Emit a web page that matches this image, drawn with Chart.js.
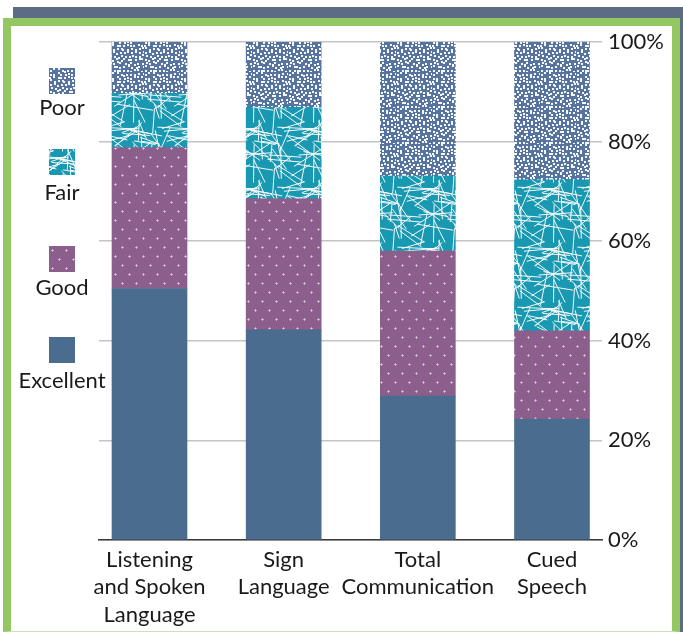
<!DOCTYPE html>
<html>
<head>
<meta charset="utf-8">
<script src="https://cdn.jsdelivr.net/npm/chart.js@4.4.1/dist/chart.umd.min.js"></script>
<style>
    body {
        margin: 0;
        width: 683px;
        height: 632px;
        background: #ffffff;
        position: relative;
        overflow: hidden;
        font-family: Lato, "Open Sans", sans-serif;
    }
    .top-bar {
        position: absolute;
        left: 13px;
        top: 7px;
        width: 670px;
        height: 12px;
        background: #5c6c84;
    }
    .right-bar {
        position: absolute;
        left: 680px;
        top: 7px;
        width: 3px;
        height: 625px;
        background: #5c6c84;
    }
    .frame {
        position: absolute;
        left: 3px;
        top: 18px;
        width: 661px;
        height: 605px;
        border: 8px solid #93c762;
        border-bottom: 1px solid #c9e3b2;
        background: #ffffff;
    }
    #chart {
        position: absolute;
        left: 0;
        top: 0;
    }
    .legend-swatch {
        position: absolute;
        left: 49px;
        width: 26px;
        height: 26px;
    }
    .legend-text {
        position: absolute;
        left: 2px;
        width: 120px;
        text-align: center;
        font-size: 22px;
        color: #1a1a1a;
        line-height: 26px;
    }
</style>
</head>
<body>
<div class="top-bar"></div>
<div class="right-bar"></div>
<div class="frame"></div>
<canvas id="chart" width="683" height="632"></canvas>
<div id="legend"></div>

<script>
// Chart data
const categories = [
    ["Listening", "and Spoken", "Language"],
    ["Sign", "Language"],
    ["Total", "Communication"],
    ["Cued", "Speech"],
];
const excellent = [50.5, 42.2, 28.9, 24.3];
const good = [28.3, 26.3, 29.1, 17.7];
const fair = [10.9, 18.4, 15.1, 30.3];
const poor = [10.3, 13.1, 26.9, 27.7];
const yTicks = [0, 20, 40, 60, 80, 100];

let textColor = "#1a1a1a";
let tickFont = { family: "Lato", size: 22, lineHeight: 1.25 };

// seeded generator, only used for the texture of the fills
let seed = 987654321;
function rnd() {
    seed |= 0;
    seed = (seed + 0x6d2b79f5) | 0;
    let t = Math.imul(seed ^ (seed >>> 15), 1 | seed);
    t = (t + Math.imul(t ^ (t >>> 7), 61 | t)) ^ t;
    return ((t ^ (t >>> 14)) >>> 0) / 4294967296;
}

// pattern tiles start
function poorTile() {
    const s = 36;
    const c = document.createElement("canvas");
    c.width = s;
    c.height = s;
    const ctx = c.getContext("2d");
    ctx.fillStyle = "#56749f";
    ctx.fillRect(0, 0, s, s);
    ctx.fillStyle = "rgba(255,255,255,0.95)";
    for (let i = 0; i < 10; i++) {
        for (let j = 0; j < 10; j++) {
            const x = Math.round(i * 3.6 + rnd() * 2.6) % s;
            const y = Math.round(j * 3.6 + rnd() * 2.6) % s;
            ctx.fillRect(x, y, 2, 2);
        }
    }
    return c;
}

function fairTile() {
    const s = 60;
    const c = document.createElement("canvas");
    c.width = s;
    c.height = s;
    const ctx = c.getContext("2d");
    ctx.fillStyle = "#1898b1";
    ctx.fillRect(0, 0, s, s);
    ctx.strokeStyle = "rgba(255,255,255,0.95)";
    ctx.lineWidth = 1;
    for (let k = 0; k < 42; k++) {
        const x = rnd() * s;
        const y = rnd() * s;
        const a = rnd() * Math.PI;
        const len = 14 + rnd() * 28;
        const dx = Math.cos(a) * len / 2;
        const dy = Math.sin(a) * len / 2;
        for (let ox = -s; ox <= s; ox += s) {
            for (let oy = -s; oy <= s; oy += s) {
                ctx.beginPath();
                ctx.moveTo(x - dx + ox, y - dy + oy);
                ctx.lineTo(x + dx + ox, y + dy + oy);
                ctx.stroke();
            }
        }
    }
    return c;
}

function goodTile() {
    const c = document.createElement("canvas");
    c.width = 14;
    c.height = 18;
    const ctx = c.getContext("2d");
    ctx.fillStyle = "#8c5e8c";
    ctx.fillRect(0, 0, 14, 18);
    ctx.fillStyle = "rgba(255,255,255,0.45)";
    const plus = (x, y) => {
        ctx.fillRect(x - 1, y, 3, 1);
        ctx.fillRect(x, y - 1, 1, 3);
    };
    plus(3, 4);
    plus(10, 13);
    return c;
}
// pattern tiles end

const chartCtx = document.getElementById("chart").getContext("2d");
const tiles = { Good: goodTile(), Fair: fairTile(), Poor: poorTile() };
const fills = {
    Excellent: "#4a6c8f",
    Good: chartCtx.createPattern(tiles.Good, "repeat"),
    Fair: chartCtx.createPattern(tiles.Fair, "repeat"),
    Poor: chartCtx.createPattern(tiles.Poor, "repeat"),
};

function toPoints(values) {
    return values.map((v, i) => ({ x: i, y: v }));
}

const series = [
    { label: "Excellent", data: excellent },
    { label: "Good", data: good },
    { label: "Fair", data: fair },
    { label: "Poor", data: poor },
];

new Chart(chartCtx, {
    type: "bar",
    data: {
        datasets: series.map((s) => ({
            label: s.label,
            data: toPoints(s.data),
            backgroundColor: fills[s.label],
            borderWidth: 0,
            barThickness: 75,
        })),
    },
    options: {
        responsive: false,
        animation: false,
        layout: {
            padding: { left: 99, right: 11, top: 42, bottom: 0 },
        },
        plugins: {
            legend: { display: false },
            tooltip: { enabled: false },
        },
        scales: {
            x: {
                type: "linear",
                stacked: true,
                offset: false,
                min: -0.3764,
                max: 3.3727,
                grid: { display: false, drawTicks: false, offset: false },
                border: { display: true, color: "#3a3a3a", width: 1.5 },
                ticks: {
                    autoSkip: false,
                    maxRotation: 0,
                    padding: 6,
                    color: textColor,
                    font: tickFont,
                    callback: (v) => categories[v],
                },
                afterBuildTicks: (scale) => {
                    scale.ticks = categories.map((c, i) => ({ value: i }));
                },
                afterFit: (scale) => {
                    scale.height = 92;
                },
            },
            y: {
                position: "right",
                stacked: true,
                min: 0,
                max: 100,
                grid: { color: "#c4c4c4", lineWidth: 1.5, drawTicks: false },
                border: { display: false },
                ticks: {
                    stepSize: 20,
                    padding: 6,
                    color: textColor,
                    font: tickFont,
                    callback: (v) => (yTicks.includes(v) ? v + "%" : ""),
                },
                afterFit: (scale) => {
                    scale.width = 70;
                },
            },
        },
    },
});

// legend start
const legendItems = [
    { label: "Poor", swatchTop: 68, textTop: 94 },
    { label: "Fair", swatchTop: 149, textTop: 179 },
    { label: "Good", swatchTop: 246, textTop: 274 },
    { label: "Excellent", swatchTop: 337, textTop: 367 },
];
const legend = document.getElementById("legend");
legendItems.forEach((item) => {
    const sw = document.createElement("canvas");
    sw.width = 26;
    sw.height = 26;
    sw.className = "legend-swatch";
    sw.style.top = item.swatchTop + "px";
    const sctx = sw.getContext("2d");
    const tile = tiles[item.label];
    sctx.fillStyle = tile ? sctx.createPattern(tile, "repeat") : fills.Excellent;
    sctx.fillRect(0, 0, 26, 26);
    legend.appendChild(sw);

    const t = document.createElement("div");
    t.className = "legend-text";
    t.style.top = item.textTop + "px";
    t.textContent = item.label;
    legend.appendChild(t);
});
// legend end
</script>
</body>
</html>
